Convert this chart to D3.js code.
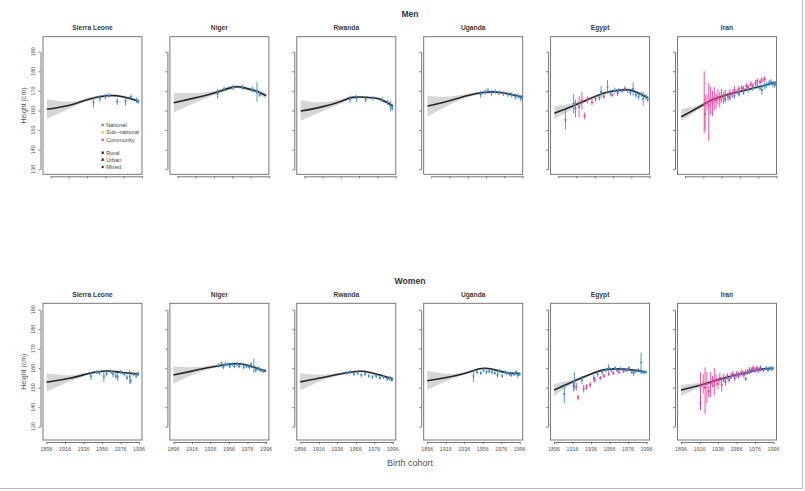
<!DOCTYPE html>
<html><head><meta charset="utf-8">
<script src="https://cdn.jsdelivr.net/npm/d3@7"></script>
<style>html,body{margin:0;padding:0;background:#fff}svg{display:block}</style>
</head><body><svg id="c" width="805" height="491"></svg>
<script>
// ---------- DATA ----------
const countries = ["Sierra Leone","Niger","Rwanda","Uganda","Egypt","Iran"];
const sexes = ["Men","Women"];
const xTicks = [1896,1916,1936,1956,1976,1996];
const yTicks = [130,140,150,160,170,180,190];
const sources = ["National","Sub\u2212national","Community"];
const settings = ["Rural","Urban","Mixed"];

// fitted curve: [year, fit, lower, upper]
const menSierraLeoneFit = [[1892,160.6,155.7,165.8],[1917,162.7,161.0,164.5],[1935,165.4,164.6,166.3],[1957,167.5,166.8,168.2],[1975,167.0,166.3,167.7],[1992,164.8,163.8,165.8]];
const menNigerFit = [[1892,164.0,159.0,169.0],[1913,166.2,163.5,168.9],[1935,168.8,167.6,170.0],[1956,171.8,170.9,172.7],[1967,171.8,171.0,172.6],[1982,169.9,168.8,171.0],[1993,167.5,166.0,169.0]];
const menRwandaFit = [[1892,159.7,154.8,165.4],[1913,161.6,159.0,164.2],[1935,164.5,163.3,165.7],[1949,166.7,166.0,167.4],[1964,166.7,166.1,167.3],[1978,165.9,165.2,166.6],[1993,162.3,161.0,163.6]];
const menUgandaFit = [[1892,162.3,157.0,167.5],[1913,164.6,162.2,167.0],[1935,167.5,166.5,168.5],[1955,169.3,168.7,169.9],[1970,169.3,168.8,169.8],[1985,168.0,167.4,168.6],[1996,166.8,165.8,167.8]];
const menEgyptFit = [[1892,158.6,155.5,162.3],[1912,162.3,160.8,163.8],[1934,166.7,166.0,167.4],[1952,169.6,169.1,170.1],[1972,170.5,170.0,171.0],[1983,169.1,168.5,169.7],[1994,166.5,165.5,167.5]];
const menIranFit = [[1892,156.8,154.8,160.6],[1912,161.9,160.8,163.0],[1930,166.2,165.6,166.8],[1955,169.6,169.2,170.0],[1977,172.1,171.8,172.4],[1991,173.9,173.3,174.5],[1995,174.3,173.4,175.2]];
const womenSierraLeoneFit = [[1896,152.8,148.0,157.4],[1921,154.8,153.2,156.4],[1943,157.4,156.7,158.1],[1961,158.6,158.0,159.2],[1976,157.9,157.3,158.5],[1996,156.9,155.9,157.9]];
const womenNigerFit = [[1896,156.5,152.0,161.0],[1916,158.5,156.5,160.5],[1936,160.5,159.6,161.4],[1956,162.0,161.5,162.5],[1966,162.3,161.8,162.8],[1976,161.5,161.0,162.0],[1986,160.0,159.4,160.6],[1996,158.5,157.6,159.4]];
const womenRwandaFit = [[1896,153.0,148.5,157.5],[1916,154.8,153.0,156.6],[1936,156.8,156.0,157.6],[1956,158.3,157.8,158.8],[1966,158.3,157.8,158.8],[1980,156.8,156.3,157.3],[1996,154.5,153.7,155.3]];
const womenUgandaFit = [[1896,153.6,148.8,158.7],[1921,155.6,154.2,157.0],[1939,157.7,157.0,158.4],[1953,159.7,159.2,160.2],[1964,159.7,159.2,160.2],[1982,157.7,157.3,158.1],[1996,157.2,156.6,157.8]];
const womenEgyptFit = [[1896,148.8,145.7,151.9],[1916,153.1,152.0,154.2],[1938,157.4,156.9,157.9],[1953,159.4,159.0,159.8],[1975,159.4,159.0,159.8],[1996,157.9,157.3,158.5]];
const womenIranFit = [[1896,148.8,145.7,151.4],[1923,152.2,151.4,153.0],[1945,155.3,154.9,155.7],[1967,157.7,157.4,158.0],[1981,159.4,159.1,159.7],[1996,159.9,159.4,160.4]];

// survey estimates: [year, mean, lower, upper, source index]
const menSierraLeonePts = [[1943,164.0,161.5,166.5,0],[1950,166.2,164.5,168,0],[1956,167.2,165.8,168.6,0],[1960,167.6,166.5,168.8,0],[1969,164.6,162.8,166.3,0],[1978,165.0,162.5,167.5,0],[1984,167.0,165.8,168.2,0],[1990,165.2,163.8,166.6,0],[1992,164.5,163.5,165.5,0]];
const menNigerPts = [[1940,168.5,166,171,0],[1947,171.0,169.8,172.2,0],[1957,171.8,170.5,173.1,0],[1967,171.8,170.5,173.1,0],[1978,170.6,169.2,172,0],[1983,169.5,164.5,174.5,0],[1986,168.2,167,169.4,0]];
const menRwandaPts = [[1946,165.8,164,167.6,0],[1953,166.2,164.5,167.9,0],[1963,165.6,164.2,167,0],[1971,166.2,165,167.4,0],[1981,165.5,164.3,166.7,0],[1987,164.2,163,165.4,0],[1990,162.3,159.5,165,0],[1992,161.2,159.8,162.6,0]];
const menUgandaPts = [[1950,168.2,166.5,169.9,0],[1955,169.5,168,171,0],[1958,170.0,168.5,171.5,0],[1962,169.0,167.5,170.5,0],[1966,169.6,168.3,170.9,0],[1970,169.0,167.8,170.2,0],[1975,168.6,167.4,169.8,0],[1980,168.2,166.8,169.6,0],[1984,168.0,166.5,169.5,0],[1988,167.0,165.5,168.5,0],[1991,167.3,165.8,168.8,0],[1994,166.2,164.5,167.9,0],[1996,166.0,164.5,167.5,0]];
const menEgyptPts = [[1904,155.2,150.5,160,0],[1913,163.6,158.5,168.5,0],[1915,161.0,156.5,165.5,0],[1919,161.9,156.5,167.3,2],[1922,165.0,160.5,169.5,2],[1925,157.2,155.5,159,2],[1928,165.5,163.5,167.5,2],[1933,164.2,162.5,166,2],[1937,166.0,164.5,167.5,2],[1941,166.5,165,168,0],[1943,169.5,166.5,172.5,0],[1946,167.2,166,168.4,2],[1950,172.0,168.5,175.5,0],[1953,169.0,167.5,170.5,0],[1955,168.0,166.8,169.2,2],[1958,170.2,168.8,171.6,0],[1961,168.8,167.5,170.1,2],[1962,170.2,169,171.4,0],[1966,170.0,168.8,171.2,0],[1969,171.2,170,172.4,2],[1972,170.3,169,171.6,0],[1975,169.0,167.8,170.2,0],[1978,171.0,167.5,174.5,0],[1981,168.0,166.5,169.5,0],[1984,167.2,165.5,168.9,0],[1987,168.2,166.8,169.6,0],[1989,166.0,162.5,169.5,0],[1992,167.0,165.5,168.5,0],[1994,166.0,164.5,167.5,0]];
const menIranPts = [[1917,163.0,148.5,180.0,2],[1918,158.0,150,168,2],[1920,164.0,160,168,2],[1922,162.5,144.5,174,2],[1924,165.5,158,172,2],[1926,164.0,157,170,2],[1928,166.0,160,172,2],[1930,165.0,161,169,2],[1932,167.0,163,171,2],[1934,165.5,161.5,169.5,2],[1936,167.5,164,171,2],[1938,166.5,163.5,169.5,2],[1940,168.0,165.5,170.5,2],[1943,167.0,165,169,2],[1945,169.0,167,171,2],[1948,168.5,166.5,170.5,2],[1950,170.5,168.5,172.5,2],[1953,169.5,168,171,2],[1955,171.0,169.5,172.5,2],[1958,171.5,170,173,2],[1960,171.0,169.5,172.5,2],[1963,172.5,171,174,2],[1965,172.0,170.5,173.5,2],[1968,173.5,172,175,2],[1970,172.5,171,174,2],[1973,174.0,172.5,175.5,2],[1975,175.0,173.5,176.5,2],[1978,174.5,173,176,2],[1980,175.5,174,177,2],[1983,176.0,174.5,177.5,2],
  [1940,165.5,164,167,0],[1945,166.5,165,168,0],[1950,167.5,166,169,0],[1955,168.5,167,170,0],[1960,169.5,168,171,0],[1965,170.5,169,172,0],[1970,171.5,170,173,0],[1975,172.5,171,174,0],[1978,171.5,170,173,0],[1980,170.5,168,173,0],[1983,172.5,171,174,0],[1985,173.0,171.5,174.5,0],[1988,174.0,172.5,175.5,0],[1990,174.5,173,176,0],[1992,173.5,172,175,0],[1994,173.0,171.5,174.5,0],[1995,174.0,173,175,0]];
const womenSierraLeonePts = [[1944,156.0,154,158,0],[1950,158.0,157,159,0],[1953,157.5,156.5,158.5,0],[1958,155.8,153,158.5,0],[1961,157.2,156,158.4,0],[1966,158.0,157,159,0],[1968,157.0,155.5,158.5,0],[1971,156.0,154.5,157.5,0],[1973,155.5,153.5,157.5,0],[1976,158.0,157,159,0],[1980,157.0,155.8,158.2,0],[1983,155.2,154,156.5,0],[1986,155.8,152,159,0],[1987,153.5,152,155,0],[1990,157.0,156,158,0],[1993,156.0,155,157,0],[1995,157.2,156,158.4,0]];
const womenNigerPts = [[1945,161.5,160.3,162.7,0],[1948,162.5,161.5,163.5,0],[1950,160.5,159.5,161.5,0],[1952,162.0,161,163,0],[1955,162.0,161,163,0],[1957,161.0,160,162,0],[1960,162.0,161,163,0],[1962,161.0,160,162,0],[1965,162.0,161,163,0],[1967,161.0,160,162,0],[1970,162.0,161,163,0],[1972,160.5,159.5,161.5,0],[1975,161.0,160,162,0],[1978,160.5,159.5,161.5,0],[1980,162.0,161,163,0],[1983,161.0,157.5,165,0],[1985,159.0,158,160,0],[1988,160.0,159,161,0],[1990,159.0,158,160,0],[1993,158.5,157.5,159.5,0]];
const womenRwandaPts = [[1946,157.5,156.5,158.5,0],[1950,158.0,157,159,0],[1954,157.0,156,158,0],[1958,157.5,156.5,158.5,0],[1962,156.5,155.5,157.5,0],[1966,157.0,156,158,0],[1970,156.0,155,157,0],[1974,155.5,154.5,156.5,0],[1978,156.0,155,157,0],[1982,155.0,154,156,0],[1986,155.5,154.5,156.5,0],[1990,154.5,153.5,155.5,0],[1993,154.8,153.5,156,0],[1995,154.0,153,155,0]];
const womenUgandaPts = [[1946,156.0,153,159,0],[1950,158.0,157,159,0],[1954,157.5,156.5,158.5,0],[1957,159.0,158,160,0],[1960,158.0,157,159,0],[1963,158.5,157.5,159.5,0],[1966,158.0,157,159,0],[1969,157.5,156.5,158.5,0],[1972,156.5,155,158,0],[1974,158.5,157.5,159.5,0],[1977,156.0,155,157,0],[1980,158.0,157,159,0],[1982,157.5,156.5,158.5,0],[1985,157.0,156,158,0],[1987,156.5,155.5,157.5,0],[1990,157.0,156,158,0],[1992,158.0,157,159,0],[1994,156.5,155,158,0],[1996,157.0,156,158,0]];
const womenEgyptPts = [[1907,146.8,142,152,0],[1917,151.0,148,154,0],[1918,153.0,149,158,0],[1920,150.5,148.5,152.5,2],[1922,145.0,143.5,146.5,2],[1926,154.0,152,156,0],[1928,149.5,147.5,151.5,2],[1931,150.5,149,152,2],[1935,151.5,150,153,2],[1939,155.0,153.5,156.5,0],[1940,154.0,152.5,155.5,2],[1943,157.0,155.5,158.5,0],[1946,155.0,154,156,2],[1948,158.0,156.5,159.5,0],[1950,156.0,155,157,2],[1952,159.0,158,160,0],[1955,160.0,158,162,0],[1955,157.0,156,158,2],[1958,159.0,158,160,0],[1960,157.5,156.5,158.5,2],[1962,160.0,159,161,0],[1964,159.0,158,160,0],[1966,158.0,157,159,2],[1968,159.5,158.5,160.5,0],[1971,158.5,157.5,159.5,0],[1973,159.0,158,160,2],[1975,159.0,158,160,0],[1977,160.0,159,161,0],[1980,158.0,157,159,0],[1982,157.5,156,159,0],[1984,158.5,157.5,159.5,0],[1987,159.0,158,160,0],[1990,163.0,157,168,0],[1992,158.0,157,159,0],[1994,158.0,157,159,0]];
const womenIranPts = [[1917,151.0,138.5,158,2],[1917,142.0,139,146,2],[1920,152.0,147,157,2],[1922,150.0,136.5,160.5,2],[1924,152.0,142,158,2],[1926,148.0,145,151,2],[1928,152.0,145,158,2],[1930,153.0,150,156,2],[1932,151.0,146,160,2],[1934,154.0,151,157,2],[1936,152.0,149,155,2],[1938,155.0,152.5,157.5,2],[1940,151.5,148,155,2],[1942,155.0,153,157,2],[1944,153.0,151,155,2],[1946,156.0,154.5,157.5,2],[1948,154.0,152.5,155.5,2],[1950,156.0,154.5,157.5,2],[1952,157.0,155.5,158.5,2],[1954,155.0,153.5,156.5,2],[1956,157.0,155.5,158.5,2],[1958,156.0,154.5,157.5,2],[1960,157.0,155.5,158.5,2],[1962,158.0,156.5,159.5,2],[1964,156.5,155,158,2],[1966,158.0,156.5,159.5,2],[1968,158.0,156.5,159.5,2],[1970,159.0,157.5,160.5,2],[1972,159.0,157.5,160.5,2],[1974,160.0,158.5,161.5,2],[1976,159.0,157.5,160.5,2],[1978,160.0,158.5,161.5,2],[1980,159.0,157.5,160.5,2],[1982,160.0,158.5,161.5,2],
  [1942,154.0,153,155,0],[1946,155.0,154,156,0],[1950,155.5,154.5,156.5,0],[1954,156.0,155,157,0],[1958,157.0,156,158,0],[1962,157.0,156,158,0],[1966,154.5,153.5,155.5,0],[1970,158.0,157,159,0],[1974,159.0,158,160,0],[1978,159.0,158,160,0],[1982,160.0,159,161,0],[1985,159.0,158,160,0],[1988,160.0,159,161,0],[1990,159.0,158,160,0],[1992,160.0,159,161,0],[1994,159.5,158.5,160.5,0],[1995,160.0,159,161,0]];

const fits = {
  Men: [menSierraLeoneFit, menNigerFit, menRwandaFit, menUgandaFit, menEgyptFit, menIranFit],
  Women: [womenSierraLeoneFit, womenNigerFit, womenRwandaFit, womenUgandaFit, womenEgyptFit, womenIranFit]
};
const pts = {
  Men: [menSierraLeonePts, menNigerPts, menRwandaPts, menUgandaPts, menEgyptPts, menIranPts],
  Women: [womenSierraLeonePts, womenNigerPts, womenRwandaPts, womenUgandaPts, womenEgyptPts, womenIranPts]
};

// ---------- LAYOUT ----------
const FONT = "'Liberation Sans', Arial, Helvetica, sans-serif";
const srcColors = ["#3c8dd2", "#f3c23c", "#e8409c"];
const rows = {
  Men:   {top: 36.7, bottom: 174.3, y130: 169.3, y190: 51.7, x1896: 7.5, x1996: 99, title: 14, ptitle: 27.5, labels: false},
  Women: {top: 303.3, bottom: 440,  y130: 426.7, y190: 309.7, x1896: 3.5, x1996: 96, title: 281, ptitle: 294.5, labels: true}
};
const panelW = 99, panelStep = 126.9, panelX0 = 43;

const svg = d3.select("#c");
svg.append("rect").attr("width",805).attr("height",491).attr("fill","#fff");
svg.append("line").attr("x1",802.5).attr("x2",802.5).attr("y1",0).attr("y2",488.5).attr("stroke","#b8b8b8").attr("stroke-width",1);
svg.append("line").attr("x1",0).attr("x2",802.5).attr("y1",488.5).attr("y2",488.5).attr("stroke","#b8b8b8").attr("stroke-width",1);

sexes.forEach(sex => {
  const R = rows[sex];
  svg.append("text").attr("x",410).attr("y",R.title+3).attr("text-anchor","middle")
    .attr("font-family",FONT).attr("font-weight","bold").attr("font-size",8.6).attr("fill","#333").text(sex);

  countries.forEach((cn, i) => {
    const L = panelX0 + i*panelStep;
    const x = d3.scaleLinear().domain([1896,1996]).range([L+R.x1896, L+R.x1996]);
    const y = d3.scaleLinear().domain([130,190]).range([R.y130, R.y190]);
    const g = svg.append("g");
    const clipId = "clip-"+sex+i;
    g.append("clipPath").attr("id",clipId).append("rect")
      .attr("x",L).attr("y",R.top).attr("width",panelW).attr("height",R.bottom-R.top);

    g.append("text").attr("x",L+panelW/2).attr("y",R.ptitle+2).attr("text-anchor","middle")
      .attr("font-family",FONT).attr("font-weight","bold").attr("font-size",6.7).attr("fill","#3a3a3a").text(cn);

    const plot = g.append("g").attr("clip-path",`url(#${clipId})`);
    const fit = fits[sex][i];
    const area = d3.area().x(d=>x(d[0])).y0(d=>y(d[2])).y1(d=>y(d[3])).curve(d3.curveNatural);
    const line = d3.line().x(d=>x(d[0])).y(d=>y(d[1])).curve(d3.curveNatural);
    plot.append("path").attr("d",area(fit)).attr("fill","#d6d6d6").attr("stroke","none");
    plot.append("path").attr("d",line(fit)).attr("fill","none").attr("stroke","#262626").attr("stroke-width",1.6);

    const P = pts[sex][i];
    plot.selectAll("line.eb").data(P).join("line").attr("class","eb")
      .attr("x1",d=>x(d[0])).attr("x2",d=>x(d[0]))
      .attr("y1",d=>y(d[2])).attr("y2",d=>y(d[3]))
      .attr("stroke",d=>srcColors[d[4]]).attr("stroke-width",1).attr("opacity",0.9);
    plot.selectAll("circle.pt").data(P).join("circle").attr("class","pt")
      .attr("cx",d=>x(d[0])).attr("cy",d=>y(d[1])).attr("r",1.1)
      .attr("fill",d=>srcColors[d[4]]);

    g.append("rect").attr("x",L).attr("y",R.top).attr("width",panelW).attr("height",R.bottom-R.top)
      .attr("fill","none").attr("stroke","#6a6a6a").attr("stroke-width",0.9);

    const ya = g.append("g").attr("transform",`translate(${L-2.5},0)`)
      .call(d3.axisLeft(y).tickValues(yTicks).tickSize(2).tickSizeOuter(0).tickFormat(""));
    ya.selectAll("path,line").attr("stroke","#555").attr("stroke-width",0.8);
    const xa = g.append("g").attr("transform",`translate(0,${R.bottom+2})`)
      .call(d3.axisBottom(x).tickValues(xTicks).tickSize(2).tickSizeOuter(0).tickFormat(""));
    xa.selectAll("path,line").attr("stroke","#555").attr("stroke-width",0.8);

    if (i === 0) {
      yTicks.forEach(t => {
        g.append("text").attr("transform",`translate(${L-8},${y(t)}) rotate(-90)`)
          .attr("text-anchor","middle").attr("font-family",FONT).attr("font-size",5.4).attr("fill","#555").text(t);
      });
      g.append("text").attr("transform",`translate(${L-17},${(R.top+R.bottom)/2}) rotate(-90)`)
        .attr("text-anchor","middle").attr("font-family",FONT).attr("font-size",7).attr("fill","#555").text("Height (cm)");
    }
    if (R.labels) {
      xTicks.forEach(t => {
        g.append("text").attr("x",x(t)).attr("y",R.bottom+11).attr("text-anchor","middle")
          .attr("font-family",FONT).attr("font-size",5.4).attr("fill","#555").text(t);
      });
    }

    if (sex === "Men" && i === 0) {
      const lx = L + 59.7, ly = [125, 132.3, 139.7];
      sources.forEach((s, k) => {
        g.append("circle").attr("cx",lx).attr("cy",ly[k]).attr("r",1.2).attr("fill",srcColors[k]);
        g.append("text").attr("x",lx+3.5).attr("y",ly[k]+2).attr("font-family",FONT).attr("font-size",5.6).attr("fill","#444").text(s);
      });
      const sy = [152.7, 159.7, 167];
      g.append("rect").attr("x",lx-1.2).attr("y",sy[0]-1.2).attr("width",2.4).attr("height",2.4).attr("fill","#333");
      g.append("path").attr("d",d3.symbol(d3.symbolTriangle, 6)()).attr("transform",`translate(${lx},${sy[1]})`).attr("fill","#333");
      g.append("circle").attr("cx",lx).attr("cy",sy[2]).attr("r",1.2).attr("fill","#333");
      settings.forEach((s, k) => {
        g.append("text").attr("x",lx+3.5).attr("y",sy[k]+2).attr("font-family",FONT).attr("font-size",5.6).attr("fill","#444").text(s);
      });
    }
  });
});

svg.append("text").attr("x",410).attr("y",466).attr("text-anchor","middle")
  .attr("font-family",FONT).attr("font-size",9).attr("fill","#555").text("Birth cohort");
</script>
</body></html>
